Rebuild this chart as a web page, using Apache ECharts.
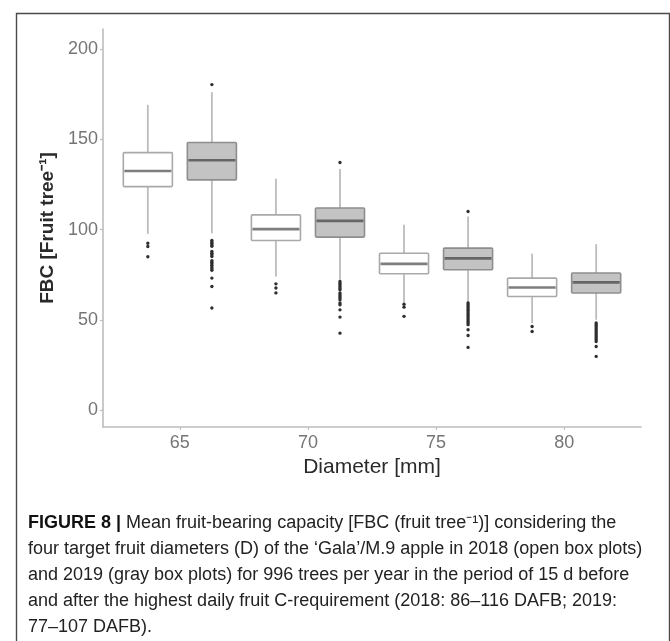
<!DOCTYPE html>
<html>
<head>
<meta charset="utf-8">
<script src="https://cdn.jsdelivr.net/npm/echarts@6/dist/echarts.min.js"></script>
<style>
  html, body { margin: 0; padding: 0; background: #ffffff; }
  #chart { width: 670px; height: 641px; }
</style>
</head>
<body>
<div id="chart"></div>
<script>
// ---- data ----
const diameters = ['65', '70', '75', '80'];
const yTicks = [0, 50, 100, 150, 200];

// 2018 (open boxes): lower whisker, Q1, median, Q3, upper whisker
const low2018 = [97.7, 74.1, 59.7, 48.3];
const q1_2018 = [123.9, 94.0, 75.6, 63.0];
const med2018 = [132.5, 100.3, 81.1, 68.0];
const q3_2018 = [142.7, 108.2, 87.0, 73.2];
const high2018 = [169.2, 128.2, 102.7, 86.7];
const out2018 = [
  [92.5, 90.7, 85.0],
  [70.0, 67.7, 65.0],
  [58.7, 57.1, 52.0],
  [46.4, 43.6]
];

// 2019 (gray boxes)
const low2019 = [98.0, 72.3, 59.7, 50.1];
const q1_2019 = [127.6, 95.9, 77.8, 64.9];
const med2019 = [138.5, 104.9, 84.1, 70.8];
const q3_2019 = [148.3, 112.0, 89.8, 76.0];
const high2019 = [176.2, 133.6, 107.3, 92.0];
const out2019 = [
  [180.4, 94.0, 93.2, 92.4, 91.6, 90.8, 87.9, 87.0, 86.1, 85.2, 82.9, 82.0, 81.1, 80.2, 79.3, 78.4, 77.5, 73.2, 68.5, 56.6],
  [137.2, 71.3, 70.4, 69.5, 68.6, 67.6, 66.7, 64.9, 64.0, 63.0, 62.1, 61.2, 59.4, 58.4, 55.6, 51.6, 42.7],
  [110.1, 59.4, 58.5, 57.6, 56.6, 55.7, 54.8, 53.8, 52.9, 52.0, 51.1, 50.1, 49.2, 48.3, 47.4, 44.6, 41.4, 34.8],
  [48.3, 47.4, 46.5, 45.6, 44.6, 43.7, 42.8, 41.9, 41.0, 40.0, 39.1, 38.1, 35.3, 29.8]
];

// ---- build ----
const BOX_W = 0.383;   // box width in axis units
const DODGE = 0.25;    // half distance between the two boxes of a diameter

function rows(lo, q1, md, q3, hi) {
  return diameters.map((d, i) => [i + 1, lo[i], q1[i], md[i], q3[i], hi[i]]);
}

function makeRender(outliers, dodge, st) {
  return function (params, api) {
    const u = api.value(0) + dodge;
    const vals = [1, 2, 3, 4, 5].map(k => api.value(k));
    const y = vals.map(v => api.coord([u, v])[1]);
    const cx = api.coord([u, vals[2]])[0];
    const xl = api.coord([u - BOX_W / 2, vals[2]])[0];
    const xr = api.coord([u + BOX_W / 2, vals[2]])[0];
    const children = [
      { type: 'line', shape: { x1: cx, y1: y[4], x2: cx, y2: y[3] },
        style: { stroke: st.whisker, lineWidth: 1.8 } },
      { type: 'line', shape: { x1: cx, y1: y[1], x2: cx, y2: y[0] },
        style: { stroke: st.whisker, lineWidth: 1.8 } },
      { type: 'rect', shape: { x: xl, y: y[3], width: xr - xl, height: y[1] - y[3], r: 1 },
        style: { fill: st.fill, stroke: st.border, lineWidth: 1.6 } },
      { type: 'line', shape: { x1: xl + 1, y1: y[2], x2: xr - 1, y2: y[2] },
        style: { stroke: st.median, lineWidth: 2.6 } }
    ];
    (outliers[params.dataIndex] || []).forEach(v => {
      const p = api.coord([u, v]);
      children.push({ type: 'circle', shape: { cx: p[0], cy: p[1], r: 1.7 },
        style: { fill: '#2e2e2e' } });
    });
    return { type: 'group', children: children };
  };
}

const whiteStyle = { fill: '#ffffff', border: '#a9a9a9', whisker: '#bcbcbc', median: '#7e7e7e' };
const grayStyle = { fill: '#c3c3c3', border: '#8e8e8e', whisker: '#bcbcbc', median: '#666666' };

const caption =
  '{b|FIGURE 8 |} Mean fruit-bearing capacity [FBC (fruit tree⁻¹)] considering the\n' +
  'four target fruit diameters (D) of the ‘Gala’/M.9 apple in 2018 (open box plots)\n' +
  'and 2019 (gray box plots) for 996 trees per year in the period of 15 d before\n' +
  'and after the highest daily fruit C-requirement (2018: 86–116 DAFB; 2019:\n' +
  '77–107 DAFB).';

const chart = echarts.init(document.getElementById('chart'), null, { renderer: 'canvas' });
chart.setOption({
  animation: false,
  backgroundColor: '#ffffff',
  textStyle: { fontFamily: 'Liberation Sans, Arial, sans-serif' },
  grid: { left: 103, top: 29, width: 538, height: 398, containLabel: false },
  xAxis: {
    type: 'value', min: 0.4, max: 4.6,
    name: 'Diameter [mm]', nameLocation: 'middle', nameGap: 27,
    nameTextStyle: { fontSize: 21, color: '#2a2a2a', fontFamily: 'Liberation Sans' },
    axisLine: { show: true, onZero: false, lineStyle: { color: '#bdbdbd', width: 1.6 } },
    axisTick: { show: true, length: 3, customValues: [1, 2, 3, 4], lineStyle: { color: '#bdbdbd', width: 1.2 } },
    axisLabel: { show: true, customValues: [1, 2, 3, 4], margin: 7, fontSize: 18, color: '#757575',
      formatter: v => diameters[Math.round(v) - 1] },
    splitLine: { show: false }
  },
  yAxis: {
    type: 'value', min: -9.3, max: 211.2,
    name: 'FBC [Fruit tree⁻¹]', nameLocation: 'middle', nameGap: 41,
    nameTextStyle: { fontSize: 19, fontWeight: 'bold', color: '#2a2a2a', fontFamily: 'Liberation Sans' },
    axisLine: { show: true, onZero: false, lineStyle: { color: '#bdbdbd', width: 1.6 } },
    axisTick: { show: true, length: 3, customValues: yTicks, lineStyle: { color: '#bdbdbd', width: 1.2 } },
    axisLabel: { show: true, customValues: yTicks, margin: 5, fontSize: 18, color: '#757575' },
    splitLine: { show: false }
  },
  series: [
    {
      type: 'custom', name: '2018',
      data: rows(low2018, q1_2018, med2018, q3_2018, high2018),
      encode: { x: 0, y: [1, 2, 3, 4, 5] },
      renderItem: makeRender(out2018, -DODGE, whiteStyle)
    },
    {
      type: 'custom', name: '2019',
      data: rows(low2019, q1_2019, med2019, q3_2019, high2019),
      encode: { x: 0, y: [1, 2, 3, 4, 5] },
      renderItem: makeRender(out2019, DODGE, grayStyle)
    }
  ],
  graphic: [
    { type: 'rect', left: 14, top: 11, silent: true,
      shape: { width: 653, height: 700 },
      style: { fill: 'none', stroke: '#4a4a4a', lineWidth: 1.4 } },
    { type: 'text', left: 28, top: 510, silent: true,
      style: {
        text: caption,
        fontSize: 18, lineHeight: 26, fill: '#222222',
        fontFamily: 'Liberation Sans, Arial, sans-serif',
        rich: { b: { fontWeight: 'bold', fontSize: 18, fill: '#111111', fontFamily: 'Liberation Sans' } }
      } }
  ]
});
</script>
</body>
</html>
